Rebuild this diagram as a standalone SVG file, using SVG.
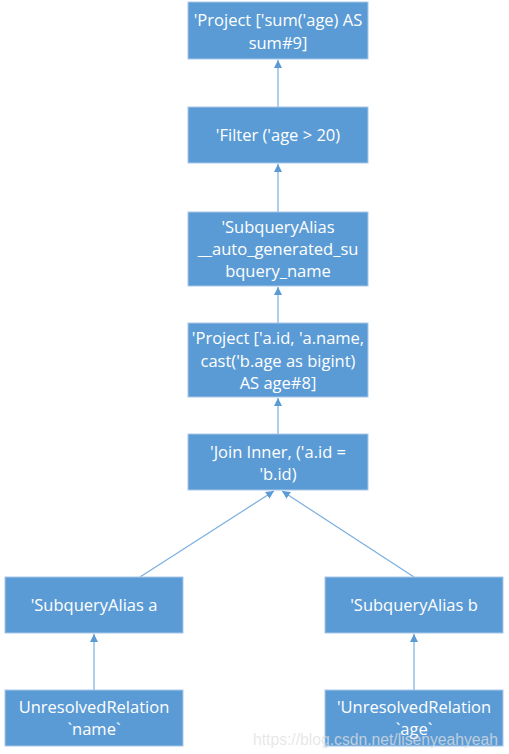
<svg xmlns="http://www.w3.org/2000/svg" width="509" height="754" viewBox="0 0 509 754">
<style>
.box{fill:#5b9bd5;stroke:#a9c8e8;stroke-width:1}
.t{font-family:"Open Sans","Liberation Sans",sans-serif;font-size:16.5px;fill:#ffffff;text-anchor:middle}
.c{stroke:#7aaee0;stroke-width:1.2;fill:none;marker-end:url(#ah)}
.wm{font-family:"Liberation Sans",Arial,sans-serif;font-size:16px;fill:#e0e0e0;fill-opacity:0.75}
</style>
<defs>
<marker id="ah" viewBox="0 0 10 10" refX="10" refY="5" markerWidth="8" markerHeight="8" markerUnits="userSpaceOnUse" orient="auto">
<path d="M0,0 L10,5 L0,10 z" fill="#5b9bd5"/>
</marker>
</defs>
<rect width="509" height="754" fill="#ffffff"/>
<g id="connectors">
<line class="c" x1="278" y1="107" x2="278" y2="60"/>
<line class="c" x1="278" y1="212" x2="278" y2="164"/>
<line class="c" x1="278" y1="323" x2="278" y2="287"/>
<line class="c" x1="278" y1="434" x2="278" y2="398"/>
<line class="c" x1="140" y1="577" x2="274" y2="491"/>
<line class="c" x1="414" y1="577" x2="282" y2="491"/>
<line class="c" x1="94" y1="690" x2="94" y2="634"/>
<line class="c" x1="414" y1="690" x2="414" y2="634"/>
</g>
<g id="n1"><rect class="box" x="188" y="2" width="180" height="57"/>
<text class="t" x="278" y="26">'Project ['sum('age) AS</text><text class="t" x="278" y="49">sum#9]</text></g>
<g id="n2"><rect class="box" x="188" y="107" width="180" height="56"/>
<text class="t" x="278" y="141">'Filter ('age &gt; 20)</text></g>
<g id="n3"><rect class="box" x="188" y="212" width="180" height="74"/>
<text class="t" x="278" y="233">'SubqueryAlias</text><text class="t" x="278" y="255">__auto_generated_su</text><text class="t" x="278" y="277">bquery_name</text></g>
<g id="n4"><rect class="box" x="188" y="323" width="180" height="74"/>
<text class="t" x="278" y="344">'Project ['a.id, 'a.name,</text><text class="t" x="278" y="367">cast('b.age as bigint)</text><text class="t" x="278" y="389">AS age#8]</text></g>
<g id="n5"><rect class="box" x="188" y="434" width="180" height="56"/>
<text class="t" x="278" y="458">'Join Inner, ('a.id =</text><text class="t" x="278" y="480">'b.id)</text></g>
<g id="n6"><rect class="box" x="5" y="577" width="178" height="56"/>
<text class="t" x="94" y="611">'SubqueryAlias a</text></g>
<g id="n7"><rect class="box" x="325" y="577" width="178" height="56"/>
<text class="t" x="414" y="611">'SubqueryAlias b</text></g>
<g id="n8"><rect class="box" x="5" y="690" width="178" height="56"/>
<text class="t" x="94" y="713">UnresolvedRelation</text><text class="t" x="94" y="735">`name`</text></g>
<g id="n9"><rect class="box" x="325" y="690" width="178" height="56"/>
<text class="t" x="414" y="713">'UnresolvedRelation</text><text class="t" x="414" y="735">`age`</text></g>
<text class="wm" x="253" y="745" textLength="245" lengthAdjust="spacingAndGlyphs">https://blog.csdn.net/lisenyeahyeah</text>
</svg>
